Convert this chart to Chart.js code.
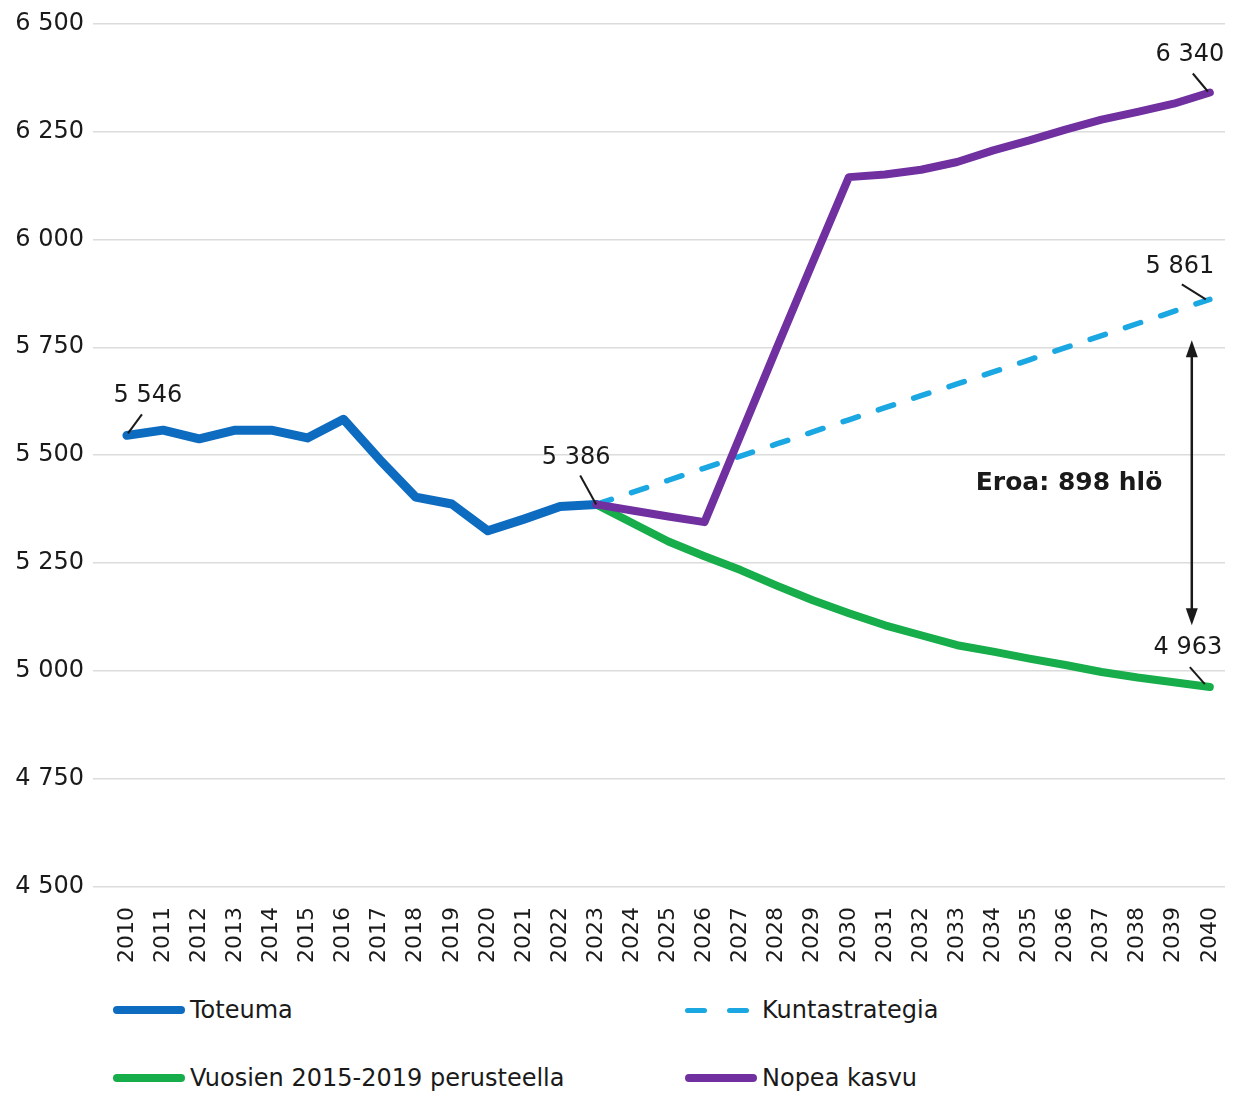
<!DOCTYPE html>
<html lang="fi">
<head>
<meta charset="utf-8">
<title>Väestökehitys 2010-2040</title>
<script src="https://cdn.jsdelivr.net/npm/chart.js@4.4.1/dist/chart.umd.min.js"></script>
<style>
body { margin: 0; background: #fff; font-family: 'DejaVu Sans', sans-serif; }
#wrap { position: relative; width: 1243px; height: 1093px; overflow: hidden; }
#kaavio { position: absolute; left: 0; top: 0; }
.leg { position: absolute; display: flex; align-items: center; height: 30px; font-size: 24px; color: #1a1a1a; white-space: nowrap; }
.leg .viiva { width: 72px; height: 8px; border-radius: 4px; margin-right: 5px; }
.leg .katko { display: flex; width: 64px; justify-content: space-between; margin-right: 13px; }
.leg .katko span { width: 22px; height: 5px; border-radius: 3px; background: #1ba8e2; }
</style>
</head>
<body>
<div id="wrap">
	<canvas id="kaavio" width="1243" height="972"></canvas>
	<div class="leg" style="left:113px; top:995px;"><span class="viiva" style="background:#0e6cc0"></span>Toteuma</div>
	<div class="leg" style="left:685px; top:995px;"><span class="katko"><span></span><span></span></span>Kuntastrategia</div>
	<div class="leg" style="left:113px; top:1063px;"><span class="viiva" style="background:#16ad4a"></span>Vuosien 2015-2019 perusteella</div>
	<div class="leg" style="left:685px; top:1063px;"><span class="viiva" style="background:#7030a0"></span>Nopea kasvu</div>
</div>
<script>
// DATA

const vuodet = [
	2010, 2011, 2012, 2013, 2014, 2015, 2016, 2017, 2018, 2019, 2020,
	2021, 2022, 2023, 2024, 2025, 2026, 2027, 2028, 2029, 2030,
	2031, 2032, 2033, 2034, 2035, 2036, 2037, 2038, 2039, 2040,
];

// 2010-2023
const toteuma = [5546, 5558, 5538, 5558, 5558, 5540, 5583, 5490, 5403, 5387, 5325, 5352, 5381, 5386];

// 2023-2040
const kuntastrategia = [5386, 5414, 5442, 5470, 5498, 5526, 5554, 5582, 5610, 5638, 5665, 5693, 5721, 5749, 5777, 5805, 5833, 5861];
const vuosien2015_2019 = [5386, 5343, 5300, 5266, 5234, 5198, 5164, 5134, 5106, 5083, 5060, 5045, 5029, 5014, 4998, 4985, 4974, 4963];
const nopeaKasvu = [5386, 5372, 5358, 5345, 5547, 5748, 5947, 6144, 6150, 6161, 6179, 6206, 6229, 6254, 6277, 6295, 6314, 6340];

const yTicks = [4500, 4750, 5000, 5250, 5500, 5750, 6000, 6250, 6500];

// apufunktiot

function muotoile(v) {
	return String(v).replace(/\B(?=(\d{3})+(?!\d))/g, ' ');
}

function pisteet(arvot, alkuvuosi) {
	return arvot.map((v, i) => ({ x: alkuvuosi + i, y: v }));
}

const viimeinen = (a) => a[a.length - 1];

// Merkinnät: arvolaput + nuoli
const laput = [
	{ x: 2010, y: toteuma[0], v1: [1, -2], v2: [15, -21], t: [21, -40] },
	{ x: 2023, y: viimeinen(toteuma), v1: [0, 0], v2: [-16, -29], t: [-20, -47] },
	{ x: 2040, y: viimeinen(nopeaKasvu), v1: [-2, -1], v2: [-17, -19], t: [-20, -38] },
	{ x: 2040, y: viimeinen(kuntastrategia), v1: [-4, 0], v2: [-28, -15], t: [-30, -33] },
	{ x: 2040, y: viimeinen(vuosien2015_2019), v1: [-5, -3], v2: [-20, -20], t: [-22, -39] },
];

const merkinnat = {
	id: 'merkinnat',
	afterDatasetsDraw(chart) {
		const ctx = chart.ctx;
		const xs = chart.scales.x;
		const ys = chart.scales.y;
		ctx.save();
		ctx.fillStyle = '#1a1a1a';
		ctx.strokeStyle = '#1a1a1a';
		ctx.font = '24px "DejaVu Sans"';
		ctx.textAlign = 'center';
		ctx.textBaseline = 'middle';
		ctx.lineWidth = 2;

		laput.forEach((l) => {
			const px = xs.getPixelForValue(l.x);
			const py = ys.getPixelForValue(l.y);
			ctx.beginPath();
			ctx.moveTo(px + l.v1[0], py + l.v1[1]);
			ctx.lineTo(px + l.v2[0], py + l.v2[1]);
			ctx.stroke();
			ctx.fillText(muotoile(l.y), px + l.t[0], py + l.t[1]);
		});

		// Eroa-nuoli
		const ax = xs.getPixelForValue(2039.5);
		const yYla = ys.getPixelForValue(5766);
		const yAla = ys.getPixelForValue(5106);
		ctx.lineWidth = 2.5;
		ctx.beginPath();
		ctx.moveTo(ax, yYla + 14);
		ctx.lineTo(ax, yAla - 14);
		ctx.stroke();
		ctx.beginPath();
		ctx.moveTo(ax, yYla);
		ctx.lineTo(ax - 6, yYla + 17);
		ctx.lineTo(ax + 6, yYla + 17);
		ctx.closePath();
		ctx.fill();
		ctx.beginPath();
		ctx.moveTo(ax, yAla);
		ctx.lineTo(ax - 6, yAla - 17);
		ctx.lineTo(ax + 6, yAla - 17);
		ctx.closePath();
		ctx.fill();

		const ero = viimeinen(kuntastrategia) - viimeinen(vuosien2015_2019);
		ctx.font = 'bold 25px "DejaVu Sans"';
		ctx.fillText('Eroa: ' + ero + ' hlö', xs.getPixelForValue(2036.1), ys.getPixelForValue(5435));
		ctx.restore();
	},
};

const viivaTyyli = {
	pointRadius: 0,
	tension: 0,
	fill: false,
	borderJoinStyle: 'round',
	borderCapStyle: 'round',
	spanGaps: true,
};

new Chart(document.getElementById('kaavio'), {
	type: 'line',
	data: {
		datasets: [
			{
				label: 'Toteuma',
				data: pisteet(toteuma, 2010),
				borderColor: '#0e6cc0',
				borderWidth: 9,
				order: 1,
				...viivaTyyli,
			},
			{
				label: 'Kuntastrategia',
				data: pisteet(kuntastrategia, 2023),
				borderColor: '#1ba8e2',
				borderWidth: 5.5,
				borderDash: [16, 21.2],
				order: 3,
				...viivaTyyli,
			},
			{
				label: 'Vuosien 2015-2019 perusteella',
				data: pisteet(vuosien2015_2019, 2023),
				borderColor: '#16ad4a',
				borderWidth: 8,
				order: 2,
				...viivaTyyli,
			},
			{
				label: 'Nopea kasvu',
				data: pisteet(nopeaKasvu, 2023),
				borderColor: '#7030a0',
				borderWidth: 8,
				order: 0,
				...viivaTyyli,
			},
		],
	},
	options: {
		responsive: false,
		animation: false,
		layout: { padding: { top: 23, right: 18, left: 0, bottom: 0 } },
		plugins: {
			legend: { display: false },
			tooltip: { enabled: false },
		},
		scales: {
			x: {
				type: 'linear',
				min: 2009.06,
				max: 2040.42,
				grid: { display: false },
				border: { display: false },
				afterBuildTicks: (ax) => {
					ax.ticks = vuodet.map((v) => ({ value: v }));
				},
				afterFit: (ax) => {
					ax.height = 85;
					ax.paddingLeft = 0;
					ax.paddingRight = 0;
				},
				ticks: {
					autoSkip: false,
					maxRotation: 90,
					minRotation: 90,
					padding: 12,
					color: '#1a1a1a',
					font: { family: 'DejaVu Sans', size: 22 },
					callback: (v) => String(v),
				},
			},
			y: {
				min: 4500,
				max: 6500,
				afterBuildTicks: (ax) => {
					ax.ticks = yTicks.map((v) => ({ value: v }));
				},
				afterFit: (ax) => {
					ax.width = 93;
				},
				grid: { color: '#dcdcdc', lineWidth: 1.5, drawTicks: false },
				border: { display: false },
				ticks: {
					padding: 9,
					color: '#1a1a1a',
					font: { family: 'DejaVu Sans', size: 24 },
					callback: (v) => muotoile(v),
				},
			},
		},
	},
	plugins: [merkinnat],
});
</script>
</body>
</html>
